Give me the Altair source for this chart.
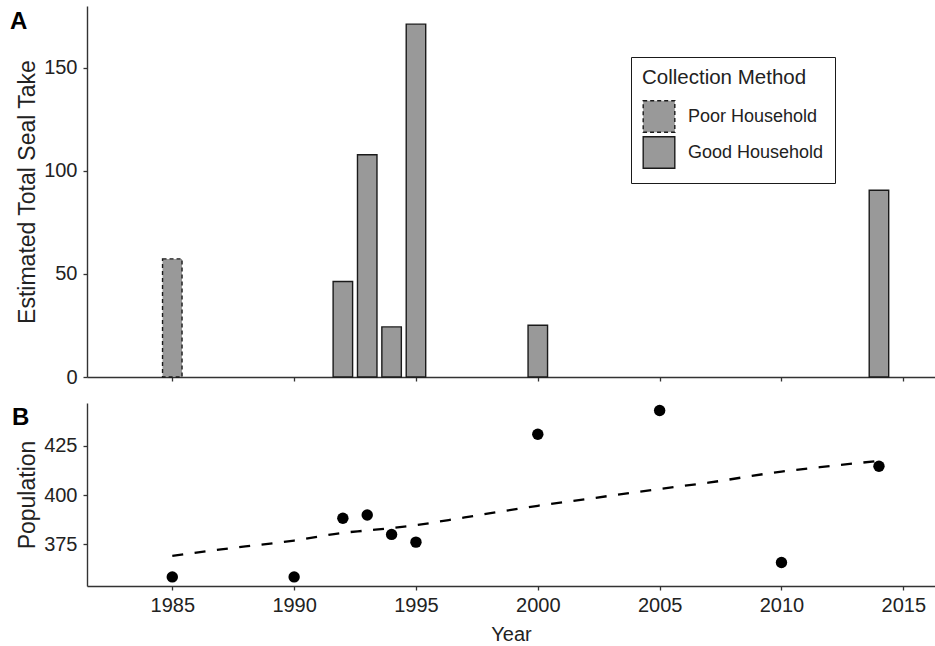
import altair as alt
import pandas as pd

# Estimated seal take per survey year and how it was collected
take_years = [1985, 1992, 1993, 1994, 1995, 2000, 2014]
take_values = [57.3, 46.3, 107.8, 24.3, 171.2, 25.1, 90.6]
take_methods = ["Poor Household", "Good Household", "Good Household",
                "Good Household", "Good Household", "Good Household",
                "Good Household"]

# Community population counts
pop_years = [1985, 1990, 1992, 1993, 1994, 1995, 2000, 2005, 2010, 2014]
pop_values = [358.6, 358.6, 388.3, 389.9, 380.1, 376.2, 430.8, 442.8, 365.9, 414.6]

# Smoothed population trend
trend_years = [1985, 1987, 1988, 1990, 1992, 1993, 1995, 1997, 2000, 2002,
               2005, 2007, 2010, 2012, 2014]
trend_values = [369.2, 372.5, 374.0, 377.0, 380.9, 382.1, 384.8, 388.7, 394.6,
                398.0, 403.1, 406.3, 411.9, 414.7, 417.3]

year_ticks = [1985, 1990, 1995, 2000, 2005, 2010, 2015]
method_order = ["Poor Household", "Good Household"]

FONT = "Liberation Sans"
INK = "#222222"
AXIS = "#333333"
EDGE = "#1a1a1a"

take_df = pd.DataFrame({"year": take_years, "take": take_values, "method": take_methods})
pop_df = pd.DataFrame({"year": pop_years, "population": pop_values})
trend_df = pd.DataFrame({"year": trend_years, "population": trend_values})

x_scale = alt.Scale(domain=[1981.5, 2016.3], nice=False, zero=False)


def y_axis(values, title):
    return alt.Axis(values=values, title=title, titleFontSize=23, titlePadding=4,
                    labelFontSize=20, labelPadding=6)


def method_legend():
    return alt.Legend(
        title="Collection Method", orient="none", legendX=544, legendY=51,
        symbolType="square", symbolSize=1000, symbolFillColor="#999999",
        symbolStrokeWidth=1.4, titleFontSize=20.5, titleFontWeight="normal",
        titleColor=INK, titleFont=FONT, titlePadding=11, labelFont=FONT,
        labelFontSize=18, labelColor=INK, labelOffset=12, rowPadding=-6,
        padding=11, strokeColor=EDGE, fillColor="white",
    )


# Panel A: bars for estimated seal take
bars = (
    alt.Chart(take_df)
    .transform_calculate(x0="datum.year - 0.4", x1="datum.year + 0.4", base="0")
    .mark_bar(fill="#999999", strokeWidth=1.4, opacity=1)
    .encode(
        x=alt.X("x0:Q", scale=x_scale,
                axis=alt.Axis(values=year_ticks, labels=False, title=None)),
        x2="x1:Q",
        y=alt.Y("take:Q", scale=alt.Scale(domain=[0, 180], nice=False),
                axis=y_axis([0, 50, 100, 150], "Estimated Total Seal Take")),
        y2="base:Q",
        stroke=alt.Stroke(
            "method:N",
            scale=alt.Scale(domain=method_order, range=[EDGE, EDGE]),
            legend=method_legend(),
        ),
        strokeDash=alt.StrokeDash(
            "method:N",
            scale=alt.Scale(domain=method_order, range=[[4, 3], [1, 0]]),
            legend=method_legend(),
        ),
    )
)

label_a = (
    alt.Chart(pd.DataFrame({"panel": ["A"]}))
    .mark_text(font=FONT, fontSize=24, fontWeight="bold", color="black",
               align="left", baseline="alphabetic")
    .encode(text="panel:N", x=alt.value(-77), y=alt.value(23))
)

top = alt.layer(bars, label_a).properties(width=848, height=371)

# Panel B: population points with dashed trend
points = (
    alt.Chart(pop_df)
    .mark_circle(color="black", opacity=1, size=130)
    .encode(
        x=alt.X("year:Q", scale=x_scale,
                axis=alt.Axis(values=year_ticks, format="d", title="Year",
                              titleFontSize=20, titlePadding=9,
                              labelFontSize=20, labelPadding=5)),
        y=alt.Y("population:Q", scale=alt.Scale(domain=[354, 446.6], nice=False, zero=False),
                axis=y_axis([375, 400, 425], "Population")),
    )
)

trend = (
    alt.Chart(trend_df)
    .mark_line(color="black", strokeWidth=2.3, strokeDash=[11, 11.5], interpolate="monotone")
    .encode(x="year:Q", y="population:Q")
)

label_b = (
    alt.Chart(pd.DataFrame({"panel": ["B"]}))
    .mark_text(font=FONT, fontSize=24, fontWeight="bold", color="black",
               align="left", baseline="alphabetic")
    .encode(text="panel:N", x=alt.value(-75), y=alt.value(22))
)

bottom = alt.layer(trend, points, label_b).properties(width=848, height=183)

chart = (
    alt.vconcat(top, bottom, spacing=16)
    .properties(padding={"left": 10, "top": 6, "right": 0, "bottom": 1})
    .configure(font=FONT)
    .configure_view(stroke=None)
    .configure_axis(
        grid=False, domainColor=AXIS, domainWidth=1.4, tickColor=AXIS,
        tickWidth=1.3, tickSize=4, labelColor=INK, titleColor=INK,
        titleFontWeight="normal", labelFont=FONT, titleFont=FONT,
    )
)

chart.save("out.html", embed_options={"renderer": "svg", "actions": False})
